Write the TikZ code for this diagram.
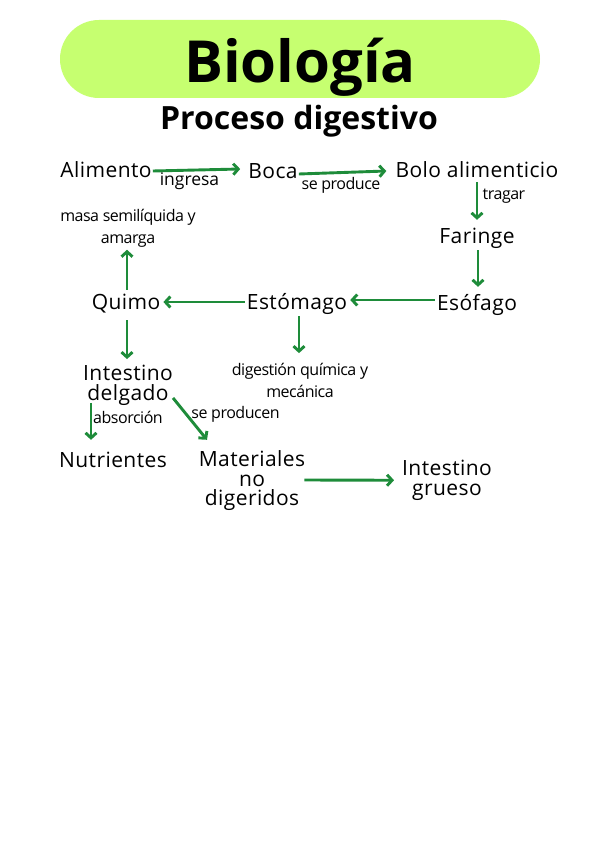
\documentclass[tikz,border=0pt]{standalone}
\usepackage{fontspec}
\setmainfont{Open Sans}
\newfontfamily\conceptfont[LetterSpace=2]{Open Sans}
\newfontfamily\condfont[LetterSpace=-3]{Open Sans}
\usetikzlibrary{arrows.meta,calc}
\definecolor{pill}{RGB}{198,255,112}
\definecolor{arrgreen}{RGB}{30,140,58}
\tikzset{
  concept/.style={inner sep=1pt, anchor=base, text height=15pt, text depth=5pt, font=\conceptfont\fontsize{21}{19.5}\selectfont},
  conceptm/.style={inner sep=1pt, align=center, font=\conceptfont\fontsize{21}{19.5}\selectfont},
  lbl/.style={inner sep=1pt, align=center, font=\condfont\fontsize{16}{22}\selectfont},
  lblb/.style={inner sep=1pt, anchor=base, font=\condfont\fontsize{16}{22}\selectfont},
  arr/.style={draw=arrgreen, line width=2.9pt, -{Straight Barb[length=5pt,width=11pt,line width=2.9pt]}}
}
\begin{document}
\begin{tikzpicture}[x=1pt,y=-1pt]
\useasboundingbox (0,0) rectangle (600,848);
\fill[white] (0,0) rectangle (600,848);
% title
\node[fill=pill, rounded corners=39pt, minimum width=480pt, minimum height=78pt, inner sep=0pt] (pill) at (300,59) {};
\node[inner sep=0pt, anchor=base, font=\fontsize{58}{58}\selectfont\bfseries] (title) at (300,83) {Biología};
\node[inner sep=0pt, anchor=base, font=\fontsize{32}{32}\selectfont\bfseries] (subtitle) at (299,130) {Proceso digestivo};
% concepts
\node[concept] (alimento) at (106,177) {Alimento};
\node[concept] (boca) at (273,178) {Boca};
\node[concept] (bolo) at (477,177) {Bolo alimenticio};
\node[concept] (faringe) at (477,243) {Faringe};
\node[concept] (esofago) at (477,310) {Esófago};
\node[concept] (estomago) at (297,309) {Estómago};
\node[concept] (quimo) at (126,309) {Quimo};
\node[lbl] (masa) at (128,228.5) {masa semilíquida y\\amarga};
\node[lbl] (digestion) at (300,380.5) {digestión química y\\mecánica};
\node[conceptm] (delgado) at (128,385.25) {Intestino\\delgado};
\node[concept] (nutrientes) at (113,467) {Nutrientes};
\node[conceptm] (materiales) at (252,481) {Materiales\\no\\digeridos};
\node[conceptm] (grueso) at (447,480.25) {Intestino\\grueso};
% edge labels
\node[inner sep=1pt, anchor=base, font=\fontsize{17.5}{20}\selectfont] (ingresa) at (189.5,185) {ingresa};
\node[lblb] (seproduce) at (341,189) {se produce};
\node[lblb] (tragar) at (504,199) {tragar};
\node[lblb] (absorcion) at (128,423) {absorción};
\node[lblb] (seproducen) at (235.5,418) {se producen};
% connectors
\draw[arr] ($(alimento.east)+(0,-1)$) -- ($(boca.west)+(-7,-4)$);
\draw[arr] ($(boca.east)+(0,1)$) -- ($(bolo.west)+(-8,-1)$);
\draw[arr] ($(bolo.south)+(0,-1)$) -- ($(faringe.north)+(0,-7)$);
\draw[arr] ($(faringe.south)+(1,1)$) -- ($(esofago.north)+(1,-7)$);
\draw[arr] ($(esofago.west)+(-1,-5)$) -- ($(estomago.east)+(2,-4)$);
\draw[arr] ($(estomago.west)+(-1,-2)$) -- ($(quimo.east)+(2,-2)$);
\draw[arr] ($(quimo.north)+(1,-3)$) -- ($(masa.south)+(-1,1)$);
\draw[arr] ($(quimo.south)+(1,5)$) -- ($(delgado.north)+(-1,-5)$);
\draw[arr] ($(estomago.south)+(2,1)$) -- ($(digestion.north)+(-1,-9)$);
\draw[arr] ($(delgado.south)+(-37,-3.5)$) -- ($(nutrientes.north)+(-22,-11)$);
\draw[arr] ($(delgado.south)+(45,-8.5)$) -- ($(materiales.north)+(-45,-10)$);
\draw[arr] ($(materiales.east)+(-2,-1)$) -- ($(grueso.west)+(-7,0)$);
\end{tikzpicture}
\end{document}
